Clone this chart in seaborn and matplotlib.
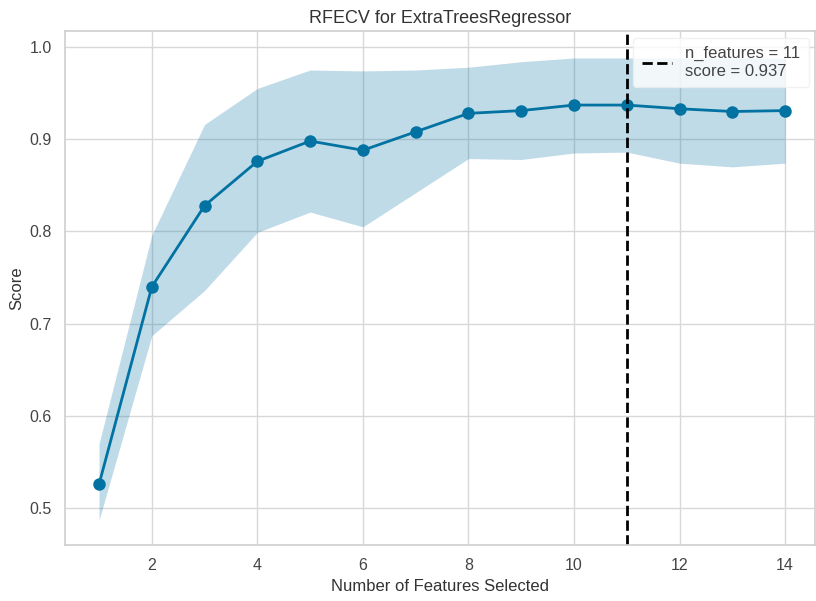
import matplotlib
matplotlib.use("Agg")
import matplotlib.pyplot as plt
import seaborn as sns
import pandas as pd

# data
n_features = [1, 2, 3, 4, 5, 6, 7, 8, 9, 10, 11, 12, 13, 14]
score_mean = [0.526, 0.740, 0.828, 0.876, 0.898, 0.888, 0.908, 0.928, 0.931, 0.937, 0.937, 0.933, 0.930, 0.931]
score_upper = [0.570, 0.796, 0.916, 0.955, 0.975, 0.974, 0.975, 0.978, 0.984, 0.988, 0.988, 0.988, 0.988, 0.988]
score_lower = [0.487, 0.687, 0.736, 0.799, 0.821, 0.805, 0.842, 0.879, 0.878, 0.885, 0.886, 0.874, 0.870, 0.874]
best_n = 11
best_score = 0.937
title = "RFECV for ExtraTreesRegressor"

df = pd.DataFrame({"n": n_features, "score": score_mean,
                   "lo": score_lower, "hi": score_upper})

sns.set_theme(style="whitegrid")
plt.rcParams["font.family"] = ["Liberation Sans", "DejaVu Sans"]
plt.rcParams["axes.edgecolor"] = "#d0d0d0"
plt.rcParams["grid.color"] = "#d8d8d8"

color = "#0272a2"

fig = plt.figure(figsize=(8.16, 6.01), dpi=100)
ax = fig.add_axes([0.080, 0.093, 0.919, 0.855])

ax.fill_between(df["n"], df["lo"], df["hi"], color=color, alpha=0.25, linewidth=0)
sns.lineplot(data=df, x="n", y="score", color=color, marker="o", markersize=9,
             markeredgewidth=0, linewidth=2, ax=ax)
ax.axvline(best_n, color="black", linestyle="--", linewidth=2,
           label=f"n_features = {best_n}\nscore = {best_score:.3f}")

ax.set_xlim(0.36, 14.57)
ax.set_ylim(0.46, 1.017)
ax.set_xticks([2, 4, 6, 8, 10, 12, 14])
ax.set_yticks([0.5, 0.6, 0.7, 0.8, 0.9, 1.0])
ax.tick_params(labelsize=11.5, colors="#444444")
ax.set_xlabel("Number of Features Selected", fontsize=12, color="#333333")
ax.set_ylabel("Score", fontsize=12, color="#333333")
ax.set_title(title, fontsize=13, color="#333333")

leg = ax.legend(loc="upper right", fontsize=12, frameon=True, handlelength=1.8,
                borderaxespad=0.4, borderpad=0.5)
leg.get_frame().set_facecolor("white")
leg.get_frame().set_alpha(0.8)
leg.get_frame().set_edgecolor("#eeeeee")
for t in leg.get_texts():
    t.set_color("#444444")

fig.savefig("out.png", dpi=100)
